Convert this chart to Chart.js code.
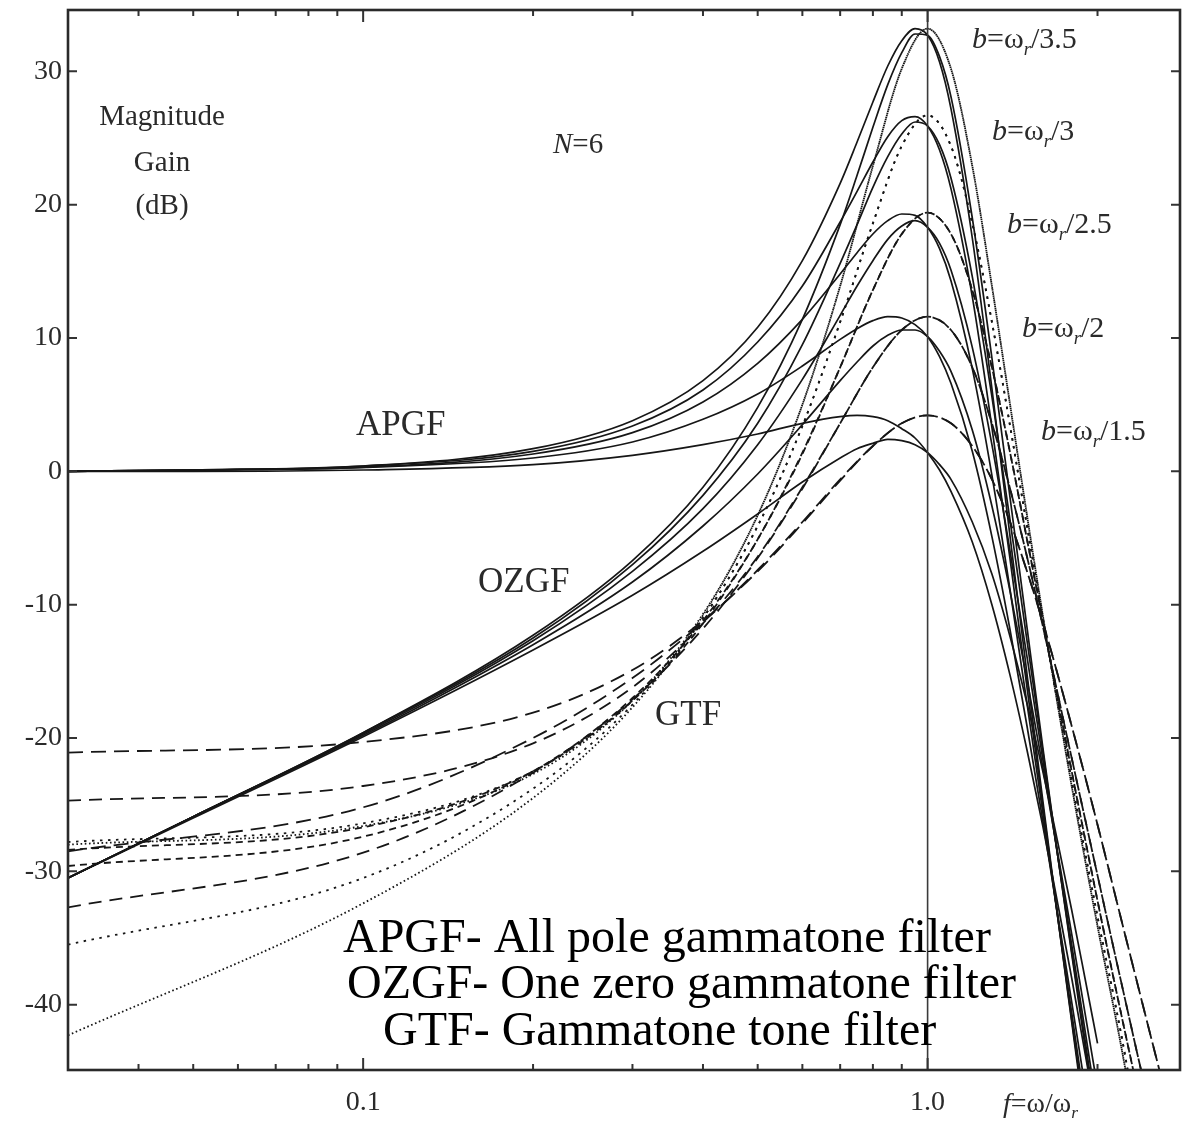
<!DOCTYPE html>
<html lang="en">
<head>
<meta charset="UTF-8">
<title>APGF / OZGF / GTF magnitude gain, N=6</title>
<script src="https://cdn.jsdelivr.net/npm/chart.js@4.4.1/dist/chart.umd.min.js"></script>
<style>
  body { margin: 0; background: #fff; }
  canvas { display: block; }
</style>
</head>
<body>
<canvas id="myChart" width="1186" height="1121"></canvas>
<script>
// normalised frequency f = w/wr for the solid (APGF, OZGF) curves
var freqSolid = [0.03, 0.05, 0.1, 0.2, 0.3, 0.4, 0.5, 0.6, 0.7, 0.75, 0.8, 0.85, 0.9, 0.95, 1.0, 1.05, 1.1, 1.2, 1.3, 1.4, 1.5, 1.6, 1.7, 1.8, 1.9, 2.0];

// all pole gammatone filter, gain in dB, b = wr/1.5 ... wr/3.5
var apgf15 = [0, 0, 0.1, 0.5, 1.2, 2.0, 2.8, 3.6, 4.1, 4.2, 4.1, 3.8, 3.2, 2.5, 1.4, 0.1, -1.5, -5.3, -10.0, -15.3, -20.9, -26.6, -32.4, -38.0, -43.6, -48.9];
var apgf2  = [0, 0.1, 0.3, 1.0, 2.2, 3.9, 5.8, 7.9, 9.9, 10.7, 11.3, 11.6, 11.5, 11.0, 10.1, 8.6, 6.6, 1.5, -4.9, -11.9, -19.1, -26.2, -33.2, -39.8, -46.1, -52.2];
var apgf25 = [0, 0.1, 0.3, 1.3, 2.9, 5.2, 8.1, 11.4, 14.8, 16.4, 17.8, 18.8, 19.3, 19.2, 18.3, 16.7, 14.3, 7.7, -0.3, -8.9, -17.4, -25.6, -33.4, -40.6, -47.5, -54.0];
var apgf3  = [0, 0.1, 0.4, 1.5, 3.4, 6.1, 9.7, 13.9, 18.7, 21.0, 23.2, 25.1, 26.3, 26.6, 25.9, 24.1, 21.2, 13.1, 3.3, -6.6, -16.2, -25.1, -33.4, -41.1, -48.2, -55.0];
var apgf35 = [0, 0.1, 0.4, 1.7, 3.8, 6.8, 10.8, 15.8, 21.6, 24.7, 27.7, 30.4, 32.3, 33.2, 32.7, 30.7, 27.2, 17.5, 6.2, -4.9, -15.2, -24.7, -33.4, -41.3, -48.7, -55.5];

// one zero gammatone filter
var ozgf15 = [-30.5, -26.0, -19.9, -13.4, -9.3, -6.0, -3.2, -0.8, 1.0, 1.7, 2.1, 2.4, 2.3, 2.0, 1.4, 0.5, -0.6, -3.8, -7.7, -12.4, -17.4, -22.5, -27.8, -32.9, -38.0, -42.9];
var ozgf2  = [-30.5, -25.9, -19.8, -13.0, -8.3, -4.1, -0.2, 3.5, 6.8, 8.2, 9.4, 10.2, 10.6, 10.6, 10.1, 9.0, 7.5, 3.1, -2.6, -9.0, -15.6, -22.2, -28.6, -34.7, -40.6, -46.2];
var ozgf25 = [-30.5, -25.9, -19.7, -12.7, -7.5, -2.8, 2.0, 6.9, 11.7, 13.9, 15.8, 17.4, 18.4, 18.8, 18.3, 17.1, 15.1, 9.3, 2.0, -6.0, -13.9, -21.6, -28.8, -35.5, -41.9, -48.0];
var ozgf3  = [-30.5, -25.9, -19.6, -12.5, -7.0, -1.8, 3.6, 9.5, 15.6, 18.5, 21.3, 23.6, 25.3, 26.2, 25.9, 24.5, 22.0, 14.6, 5.6, -3.7, -12.7, -21.0, -28.8, -36.0, -42.6, -49.0];
var ozgf35 = [-30.5, -25.9, -19.6, -12.3, -6.7, -1.2, 4.8, 11.4, 18.5, 22.2, 25.8, 29.0, 31.4, 32.8, 32.7, 31.1, 28.1, 19.0, 8.5, -2.0, -11.7, -20.7, -28.8, -36.2, -43.1, -49.5];

// gammatone tone filter (two tails per bandwidth)
var freqGtf = [0.03, 0.1, 0.2, 0.3, 0.4, 0.5, 0.6, 0.7, 0.8, 0.9, 1.0, 1.1, 1.2, 1.3, 1.4, 1.5, 1.6, 1.8, 2.0, 2.2, 2.5, 2.8];
var gtfA15 = [-21.1, -20.3, -18.1, -14.9, -11.2, -7.5, -3.9, -0.7, 1.9, 3.6, 4.2, 3.6, 1.9, -0.6, -3.8, -7.5, -11.3, -19.1, -26.5, -33.5, -42.8, -50.9];
var gtfB15 = [-28.5, -25.2, -20.0, -15.5, -11.3, -7.4, -3.8, -0.6, 1.9, 3.6, 4.2, 3.6, 1.9, -0.6, -3.8, -7.5, -11.3, -19.1, -26.5, -33.5, -42.8, -50.9];
var gtfA2  = [-24.7, -23.6, -20.4, -16.2, -11.4, -6.4, -1.2, 3.6, 7.8, 10.6, 11.6, 10.6, 7.8, 3.6, -1.3, -6.4, -11.6, -21.5, -30.3, -38.2, -48.4, -56.0];
var gtfB2  = [-32.7, -28.6, -22.6, -17.1, -11.8, -6.5, -1.3, 3.6, 7.8, 10.6, 11.6, 10.6, 7.8, 3.6, -1.3, -6.4, -11.6, -21.5, -30.3, -38.2, -48.4, -56.0];
var gtfA25 = [-29.6, -27.4, -22.5, -17.0, -11.2, -5.1, 1.4, 7.8, 13.6, 17.8, 19.4, 17.8, 13.6, 7.8, 1.4, -5.1, -11.2, -22.5, -32.2, -40.6, -51.3, -60.0];
var gtfB25 = [-28.4, -26.7, -22.5, -17.2, -11.4, -5.1, 1.3, 7.8, 13.6, 17.8, 19.4, 17.8, 13.6, 7.8, 1.4, -5.1, -11.2, -22.5, -32.2, -40.6, -51.3, -60.0];
var gtfA3  = [-35.5, -30.5, -23.8, -17.5, -11.0, -4.1, 3.4, 11.2, 18.6, 24.4, 26.7, 24.4, 18.6, 11.2, 3.4, -4.1, -11.0, -23.2, -33.4, -42.1, -55.0, -62.0];
var gtfB3  = [-27.8, -26.4, -22.5, -17.2, -11.0, -4.1, 3.4, 11.2, 18.6, 24.4, 26.7, 24.4, 18.6, 11.2, 3.4, -4.1, -11.0, -23.2, -33.4, -42.1, -55.0, -62.0];
var gtfA35 = [-42.3, -32.4, -24.5, -17.7, -10.8, -3.3, 5.0, 13.9, 22.9, 30.2, 33.2, 30.2, 22.9, 13.9, 5.0, -3.3, -10.8, -23.6, -34.1, -43.0, -56.0, -64.0];
var gtfB35 = [-28.0, -26.6, -22.7, -17.2, -10.7, -3.3, 5.0, 13.9, 22.9, 30.2, 33.2, 30.2, 22.9, 13.9, 5.0, -3.3, -10.8, -23.6, -34.1, -43.0, -56.0, -64.0];

// axis ticks
var xTickVals = [0.03, 0.04, 0.05, 0.06, 0.07, 0.08, 0.09, 0.1, 0.2, 0.3, 0.4, 0.5, 0.6, 0.7, 0.8, 0.9, 1, 2];
var yTickVals = [-40, -30, -20, -10, 0, 10, 20, 30];

var SERIF = '"Liberation Serif", "DejaVu Serif", serif';
var INK = '#161616';

function pts(xs, ys) {
    return xs.map(function(x, i) { return { x: x, y: ys[i] }; });
}
function solid(ys) {
    return { data: pts(freqSolid, ys), borderColor: INK, borderWidth: 1.7 };
}
function gtf(ys, dash) {
    return { data: pts(freqGtf, ys), borderColor: INK, borderWidth: 1.8, borderDash: dash };
}

var dashLong = [15, 8], dashMid = [13, 8], dashShort = [7, 5], dotSparse = [2.5, 5.5], dotFine = [1.6, 2.6];

// text drawn with italic / subscript pieces
function rich(ctx, parts, x, y, size) {
    parts.forEach(function(p) {
        var s = p.sub ? size * 0.62 : size;
        ctx.font = (p.it ? 'italic ' : '') + s + 'px ' + SERIF;
        ctx.fillText(p.t, x, y + (p.sub ? size * 0.22 : 0));
        x += ctx.measureText(p.t).width;
    });
}

// no extra room for half tick labels at the axis ends
function fixPadding(scale) {
    scale.paddingTop = 0;
    scale.paddingBottom = 0;
    scale.paddingLeft = 0;
    scale.paddingRight = 0;
}

var framePlugin = {
    id: 'frame',
    afterDatasetsDraw: function(chart) {
        var ctx = chart.ctx, a = chart.chartArea;
        var xs = chart.scales.x, ys = chart.scales.y;
        ctx.save();

        // vertical line at f = 1.0
        var x1 = xs.getPixelForValue(1);
        ctx.strokeStyle = '#3a3a3a';
        ctx.lineWidth = 1.6;
        ctx.beginPath(); ctx.moveTo(x1, a.top); ctx.lineTo(x1, a.bottom); ctx.stroke();

        // inward ticks on all four sides
        ctx.strokeStyle = '#333';
        ctx.lineWidth = 2;
        ctx.beginPath();
        xs.ticks.forEach(function(t) {
            var px = xs.getPixelForValue(t.value);
            var len = (t.value === 0.1 || t.value === 1) ? 12 : 6;
            ctx.moveTo(px, a.bottom); ctx.lineTo(px, a.bottom - len);
            ctx.moveTo(px, a.top); ctx.lineTo(px, a.top + len);
        });
        ys.ticks.forEach(function(t) {
            var py = ys.getPixelForValue(t.value);
            ctx.moveTo(a.left, py); ctx.lineTo(a.left + 9, py);
            ctx.moveTo(a.right, py); ctx.lineTo(a.right - 9, py);
        });
        ctx.stroke();

        // frame
        ctx.lineWidth = 2.6;
        ctx.strokeStyle = '#2a2a2a';
        ctx.strokeRect(a.left, a.top, a.right - a.left, a.bottom - a.top);

        // annotations
        ctx.fillStyle = '#2a2a2a';
        ctx.textBaseline = 'alphabetic';
        ctx.textAlign = 'center';
        ctx.font = '29px ' + SERIF;
        ctx.fillText('Magnitude', 162, 125);
        ctx.fillText('Gain', 162, 171);
        ctx.fillText('(dB)', 162, 214);
        ctx.textAlign = 'left';
        rich(ctx, [{ t: 'N', it: true }, { t: '=6' }], 553, 153, 29);

        ctx.font = '35px ' + SERIF;
        ctx.fillText('APGF', 356, 435);
        ctx.fillText('OZGF', 478, 592);
        ctx.fillText('GTF', 655, 725);

        var bLabels = [['3.5', 972, 48], ['3', 992, 140], ['2.5', 1007, 233], ['2', 1022, 337], ['1.5', 1041, 440]];
        bLabels.forEach(function(l) {
            rich(ctx, [{ t: 'b', it: true }, { t: '=\u03c9' }, { t: 'r', it: true, sub: true }, { t: '/' + l[0] }], l[1], l[2], 30);
        });

        rich(ctx, [{ t: 'f', it: true }, { t: '=\u03c9/\u03c9' }, { t: 'r', it: true, sub: true }], 1003, 1112, 28);

        // legend text
        ctx.fillStyle = '#000';
        ctx.font = '48px ' + SERIF;
        ctx.fillText('APGF- All pole gammatone filter', 343, 952);
        ctx.fillText('OZGF- One zero gammatone filter', 347, 998);
        ctx.fillText('GTF- Gammatone tone filter', 383, 1045);

        ctx.restore();
    }
};

var ctx = document.getElementById('myChart');
var myChart = new Chart(ctx, {
    type: 'line',
    data: {
        datasets: [
            gtf(gtfA15, dashLong), gtf(gtfB15, dashLong),
            gtf(gtfA2, dashMid), gtf(gtfB2, dashMid),
            gtf(gtfA25, dashShort), gtf(gtfB25, dashShort),
            gtf(gtfA3, dotSparse), gtf(gtfB3, dotSparse),
            gtf(gtfA35, dotFine), gtf(gtfB35, dotFine),
            solid(apgf15), solid(apgf2), solid(apgf25), solid(apgf3), solid(apgf35),
            solid(ozgf15), solid(ozgf2), solid(ozgf25), solid(ozgf3), solid(ozgf35)
        ]
    },
    options: {
        responsive: false,
        animation: false,
        events: [],
        layout: { padding: { top: 10, right: 6, left: 0, bottom: 0 } },
        elements: {
            point: { radius: 0 },
            line: { cubicInterpolationMode: 'monotone', fill: false }
        },
        plugins: { legend: { display: false }, tooltip: { enabled: false } },
        scales: {
            x: {
                type: 'logarithmic',
                min: 0.03,
                max: 2.8,
                grid: { display: false, drawTicks: false },
                border: { display: false },
                afterBuildTicks: function(scale) {
                    scale.ticks = xTickVals.map(function(v) { return { value: v }; });
                },
                afterFit: function(scale) { scale.height = 51; fixPadding(scale); },
                ticks: {
                    autoSkip: false,
                    maxRotation: 0,
                    padding: 16,
                    color: '#2a2a2a',
                    font: { family: SERIF, size: 28 },
                    callback: function(v) {
                        if (v === 0.1) return '0.1';
                        if (v === 1) return '1.0';
                        return '';
                    }
                }
            },
            y: {
                min: -44.9,
                max: 34.6,
                grid: { display: false, drawTicks: false },
                border: { display: false },
                afterBuildTicks: function(scale) {
                    scale.ticks = yTickVals.map(function(v) { return { value: v }; });
                },
                afterFit: function(scale) { scale.width = 68; fixPadding(scale); },
                ticks: {
                    padding: 6,
                    color: '#2a2a2a',
                    font: { family: SERIF, size: 28 },
                    callback: function(v) { return String(v); }
                }
            }
        }
    },
    plugins: [framePlugin]
});
</script>
</body>
</html>
